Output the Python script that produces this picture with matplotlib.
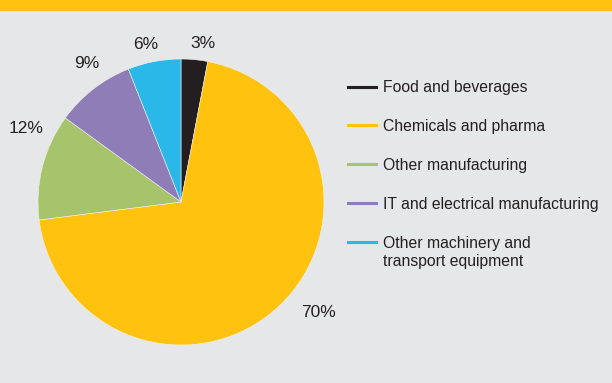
import matplotlib
matplotlib.use("Agg")
import numpy as np
import matplotlib.pyplot as plt
from matplotlib.lines import Line2D
from matplotlib.patches import Rectangle
from matplotlib.legend_handler import HandlerLine2D

# sector shares (percent), clockwise from 12 o'clock
sectors = ["Food and beverages", "Chemicals and pharma", "Other manufacturing",
           "IT and electrical manufacturing", "Other machinery and\ntransport equipment"]
shares = [3, 70, 12, 9, 6]
colors = ["#231f20", "#ffc20e", "#a6c46b", "#8f7db7", "#2ab8e9"]

# where each percentage label sits: angle nudge (deg) and distance from centre (radii)
label_nudge = [-2.5, 8, -11, -3.6, 1.8]
label_dist = [1.12, 1.23, 1.2, 1.175, 1.125]


class TopLineHandler(HandlerLine2D):
    # puts the key level with the first line of a two-line label
    def create_artists(self, legend, orig_handle, xdescent, ydescent, width, height,
                       fontsize, trans):
        artists = super().create_artists(legend, orig_handle, xdescent, ydescent,
                                         width, height, fontsize, trans)
        for a in artists:
            a.set_ydata(np.asarray(a.get_ydata()) + 0.7 * fontsize)
        return artists


plt.rcParams['font.family'] = ['Liberation Sans', 'DejaVu Sans']

bg = "#e6e7e8"
fig = plt.figure(figsize=(6.12, 3.83), dpi=100, facecolor=bg)

# yellow band along the top edge
fig.patches.append(Rectangle((0, 1 - 11 / 383), 1, 11 / 383, transform=fig.transFigure,
                             facecolor="#ffc20e", edgecolor="none"))

ax = fig.add_axes([38 / 612, 38 / 383, 286 / 612, 286 / 383])
ax.set_facecolor(bg)
wedges, _, pcts = ax.pie(shares, colors=colors, startangle=90, counterclock=False,
                         autopct='%d%%', pctdistance=1.18,
                         wedgeprops=dict(edgecolor="#f2f2f2", linewidth=0.4),
                         textprops=dict(fontsize=12.5, color="#231f20"))
for w, t, da, r in zip(wedges, pcts, label_nudge, label_dist):
    mid = np.deg2rad((w.theta1 + w.theta2) / 2 + da)
    t.set_position((r * np.cos(mid), r * np.sin(mid)))
ax.set_xlim(-1, 1)
ax.set_ylim(-1, 1)
ax.set_aspect('equal')

# legend with short line keys
handles = [Line2D([], [], color=c, lw=2.2) for c in colors]
leg = fig.legend(handles, sectors, loc="upper left", bbox_to_anchor=(334 / 612, 1 - 66 / 383),
                 frameon=False, fontsize=11.3, handlelength=1.75, handletextpad=0.5,
                 labelspacing=1.52, labelcolor="#231f20",
                 handler_map={handles[-1]: TopLineHandler()})
for txt in leg.get_texts():
    txt.set_linespacing(1.3)

fig.savefig("out.png", dpi=100, facecolor=bg)
